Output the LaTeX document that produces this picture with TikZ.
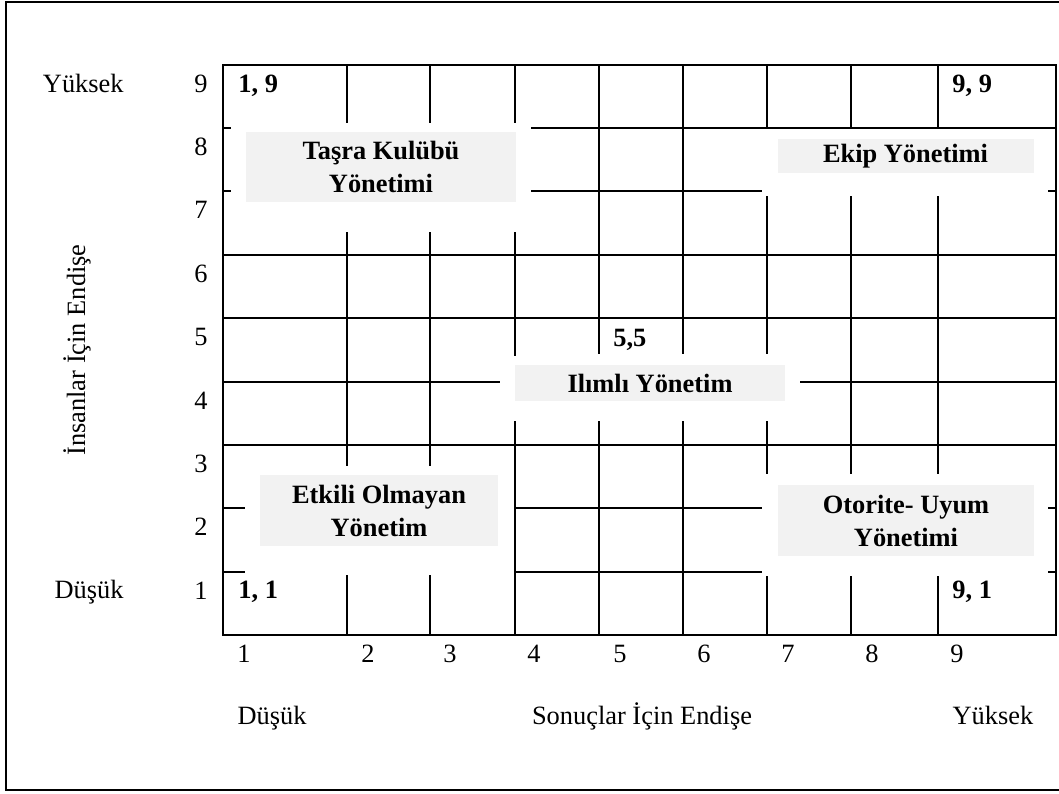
\documentclass[tikz,border=0pt]{standalone}
\usepackage{fontspec}
\setmainfont{Liberation Serif}
\usetikzlibrary{positioning}

\definecolor{boxgray}{RGB}{242,242,242}

\begin{document}
\begin{tikzpicture}[x=0.5pt, y=-0.5pt, font=\fontsize{13.2}{16.5}\selectfont,
  G/.style={line width=1.3pt, line cap=rect},
  B/.style={fill=boxgray, inner sep=0pt, align=center, font=\fontsize{13.2}{16.5}\selectfont\bfseries},
  L/.style={inner sep=0pt, anchor=base},
  C/.style={inner sep=0pt, anchor=base west, font=\fontsize{13.2}{16.5}\selectfont\bfseries}]
\useasboundingbox (0,0) rectangle (1059,793);
% outer frame (its right side is cut off by the page)
\draw[line width=1pt] (1059,2) -- (6,2) -- (6,790) -- (1059,790);

% grid: full lines
\foreach \y in {65,255,318,445,635} \draw[G] (223,\y) -- (1056,\y);
\draw[G] (223,65) -- (223,635);
\draw[G] (1056,65) -- (1056,635);
% grid: broken horizontal lines
\draw[G] (223,128) -- (230,128);  \draw[G] (532,128) -- (1056,128);
\draw[G] (223,191) -- (230,191);  \draw[G] (532,191) -- (761,191);  \draw[G] (1049,191) -- (1056,191);
\draw[G] (223,382) -- (499,382);  \draw[G] (801,382) -- (1056,382);
\draw[G] (223,508) -- (244,508);  \draw[G] (515,508) -- (761,508);  \draw[G] (1049,508) -- (1056,508);
\draw[G] (223,572) -- (244,572);  \draw[G] (515,572) -- (761,572);  \draw[G] (1049,572) -- (1056,572);
% grid: broken vertical lines
\foreach \x in {347,430} {
  \draw[G] (\x,65) -- (\x,122);  \draw[G] (\x,233) -- (\x,465);  \draw[G] (\x,576) -- (\x,635);}
\draw[G] (515,65) -- (515,122);  \draw[G] (515,233) -- (515,355);  \draw[G] (515,422) -- (515,635);
\foreach \x in {599,683} {
  \draw[G] (\x,65) -- (\x,353);  \draw[G] (\x,422) -- (\x,635);}
\draw[G] (767,65) -- (767,128);  \draw[G] (767,197) -- (767,353);
\draw[G] (767,422) -- (767,473);  \draw[G] (767,577) -- (767,635);
\foreach \x in {851,938} {
  \draw[G] (\x,65) -- (\x,128);  \draw[G] (\x,197) -- (\x,473);  \draw[G] (\x,577) -- (\x,635);}

% style boxes
\node[B, minimum width=135pt, minimum height=35pt] (tasra) at (381,167) {Taşra Kulübü\\Yönetimi};
\node[B, minimum width=128pt, minimum height=17pt] (ekip) at (905.5,156) {Ekip Yönetimi};
\node[B, minimum width=135pt, minimum height=18pt] (ilimli) at (650,383) {Ilımlı Yönetim};
\node[B, minimum width=119pt, minimum height=35.5pt] (etkili) at (379,510.5) {Etkili Olmayan\\Yönetim};
\node[B, minimum width=128pt, minimum height=35.5pt] (otorite) at (906,520.5) {Otorite- Uyum\\Yönetimi};

% corner scores
\node[C] (s19) at (238,92) {1, 9};
\node[C] (s99) at (952,92) {9, 9};
\node[C] (s55) at (613,346) {5,5};
\node[C] (s11) at (238,598) {1, 1};
\node[C] (s91) at (952,598) {9, 1};

% axis numbers
\foreach \n/\y in {9/92,8/155,7/218,6/282,5/345,4/409,3/472,2/535,1/599}
  \node[L] (r\n) at (201,\y) {\n};
\foreach \n/\x in {1/244,2/368,3/450,4/534,5/620,6/704,7/788,8/872,9/957}
  \node[L] (c\n) at (\x,662) {\n};

% axis titles
\node[L, anchor=base east] (yhigh) at (124,92) {Yüksek};
\node[L, anchor=base east] (ylow) at (124,598) {Düşük};
\node[inner sep=0pt, rotate=90] (ytitle) at (77,350) {İnsanlar İçin Endişe};
\node[L] (xlow) at (272,724) {Düşük};
\node[L] (xtitle) at (642,724) {Sonuçlar İçin Endişe};
\node[L] (xhigh) at (993,724) {Yüksek};
\end{tikzpicture}
\end{document}
